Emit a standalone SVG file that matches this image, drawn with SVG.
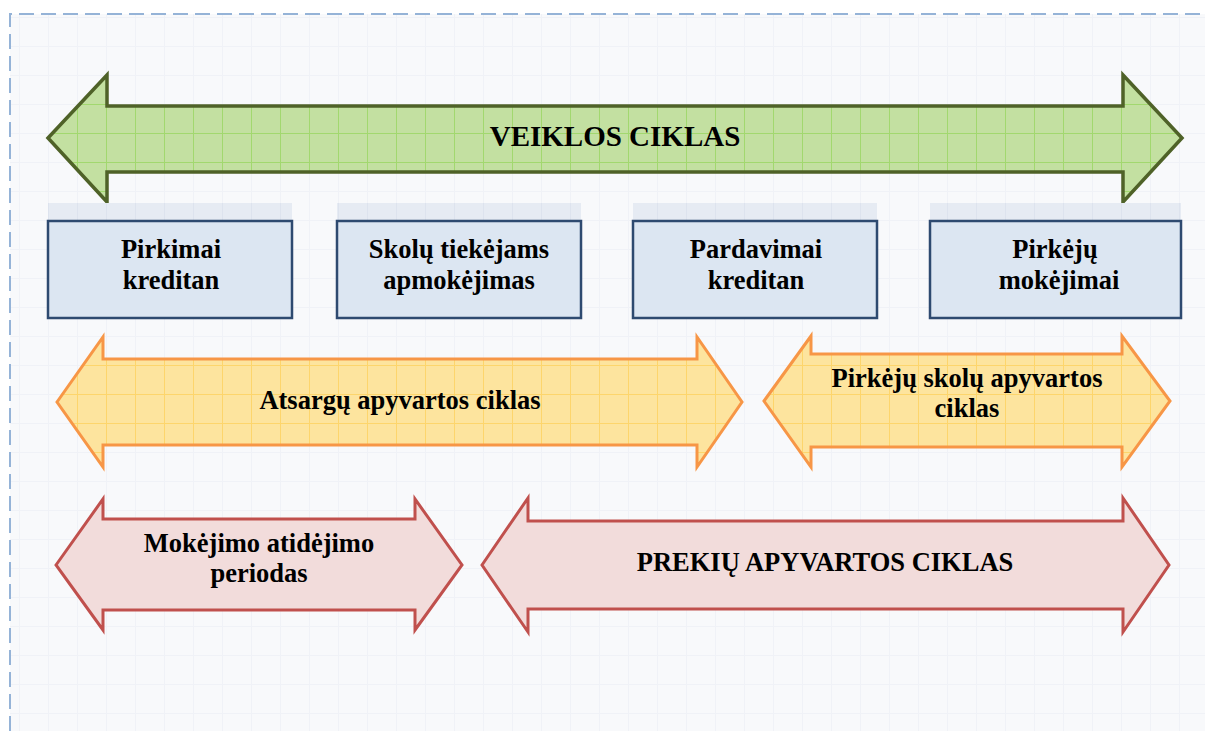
<svg xmlns="http://www.w3.org/2000/svg" width="1205" height="731" viewBox="0 0 1205 731">
  <defs>
    <pattern id="pageGrid" x="19" y="17" width="29" height="29" patternUnits="userSpaceOnUse">
      <rect width="29" height="29" fill="#f8f9fb"/>
      <path d="M0 0.5H29M0.5 0V29" stroke="#f0f2f7" stroke-width="1" fill="none"/>
    </pattern>
    <pattern id="greenGrid" x="19" y="17" width="29" height="29" patternUnits="userSpaceOnUse">
      <rect width="29" height="29" fill="#c3e0a1"/>
      <path d="M0 0.5H29M0.5 0V29" stroke="#a2d86f" stroke-width="1" fill="none"/>
    </pattern>
    <pattern id="orangeGrid" x="19" y="17" width="29" height="29" patternUnits="userSpaceOnUse">
      <rect width="29" height="29" fill="#fde49e"/>
      <path d="M0 0.5H29M0.5 0V29" stroke="#fdd56c" stroke-width="1" fill="none"/>
    </pattern>
    <pattern id="bandGrid" x="19" y="17" width="29" height="29" patternUnits="userSpaceOnUse">
      <rect width="29" height="29" fill="#e6ebf3"/>
      <path d="M0.5 0V29" stroke="#dde3ee" stroke-width="1" fill="none"/>
    </pattern>
  </defs>
  <style>
    .lbl { font-family: "Liberation Serif", "Times New Roman", serif; font-weight: bold; fill: #000; text-anchor: middle; }
    .big { font-size: 29px; }
    .mid { font-size: 26.5px; }
    .box { fill: #dce6f2; stroke: #2e4a70; stroke-width: 2.5; }
    .band { fill: url(#bandGrid); }
    .green { fill: url(#greenGrid); stroke: #4f6228; stroke-width: 3.5; stroke-linejoin: miter; }
    .orange { fill: url(#orangeGrid); stroke: #f79646; stroke-width: 3; stroke-linejoin: miter; }
    .red { fill: #f2dcdb; stroke: #c0504d; stroke-width: 3; stroke-linejoin: miter; }
    .frame { fill: none; stroke: #95b3d7; stroke-width: 2; stroke-dasharray: 15 7; }
  </style>

  <rect width="1205" height="731" fill="#ffffff"/>
  <rect x="10" y="14" width="1195" height="717" fill="url(#pageGrid)"/>
  <path class="frame" d="M10 731V14H1205"/>

  <g id="connectors"></g>

  <g id="veiklos-ciklas">
    <polygon class="green" points="48,138 107,75 107,106 1123,106 1123,75 1182,138 1123,202 1123,172 107,172 107,202"/>
    <text class="lbl big" x="615" y="146">VEIKLOS CIKLAS</text>
  </g>

  <g id="pirkimai-kreditan">
    <rect class="band" x="48" y="203" width="244" height="18"/>
    <rect class="box" x="48" y="221" width="244" height="97"/>
    <text class="lbl mid" x="171" y="258">Pirkimai</text>
    <text class="lbl mid" x="171" y="289">kreditan</text>
  </g>

  <g id="skolu-tiekejams">
    <rect class="band" x="337" y="203" width="244" height="18"/>
    <rect class="box" x="337" y="221" width="244" height="97"/>
    <text class="lbl mid" x="459" y="258">Skolų tiekėjams</text>
    <text class="lbl mid" x="459" y="289">apmokėjimas</text>
  </g>

  <g id="pardavimai-kreditan">
    <rect class="band" x="633" y="203" width="244" height="18"/>
    <rect class="box" x="633" y="221" width="244" height="97"/>
    <text class="lbl mid" x="756" y="258">Pardavimai</text>
    <text class="lbl mid" x="756" y="289">kreditan</text>
  </g>

  <g id="pirkeju-mokejimai">
    <rect class="band" x="930" y="203" width="251" height="18"/>
    <rect class="box" x="930" y="221" width="251" height="97"/>
    <text class="lbl mid" x="1055" y="258">Pirkėjų</text>
    <text class="lbl mid" x="1059" y="289">mokėjimai</text>
  </g>

  <g id="atsargu-apyvartos">
    <polygon class="orange" points="57,402 103,337 103,359 697,359 697,337 742,402 697,467 697,445 103,445 103,467"/>
    <text class="lbl mid" x="400" y="409">Atsargų apyvartos ciklas</text>
  </g>

  <g id="pirkeju-skolu-apyvartos">
    <polygon class="orange" points="764,401 811,336 811,354 1122,354 1122,336 1170,401 1122,467 1122,447 811,447 811,467"/>
    <text class="lbl mid" x="967" y="387">Pirkėjų skolų apyvartos</text>
    <text class="lbl mid" x="967" y="417">ciklas</text>
  </g>

  <g id="mokejimo-atidejimo">
    <polygon class="red" points="56,565 103,499 103,519 415,519 415,499 462,565 415,630 415,610 103,610 103,630"/>
    <text class="lbl mid" x="259" y="552">Mokėjimo atidėjimo</text>
    <text class="lbl mid" x="259" y="582">periodas</text>
  </g>

  <g id="prekiu-apyvartos">
    <polygon class="red" points="482,565 528,498 528,521 1123,521 1123,498 1169,565 1123,632 1123,609 528,609 528,632"/>
    <text class="lbl mid" x="825" y="571">PREKIŲ APYVARTOS CIKLAS</text>
  </g>
</svg>
